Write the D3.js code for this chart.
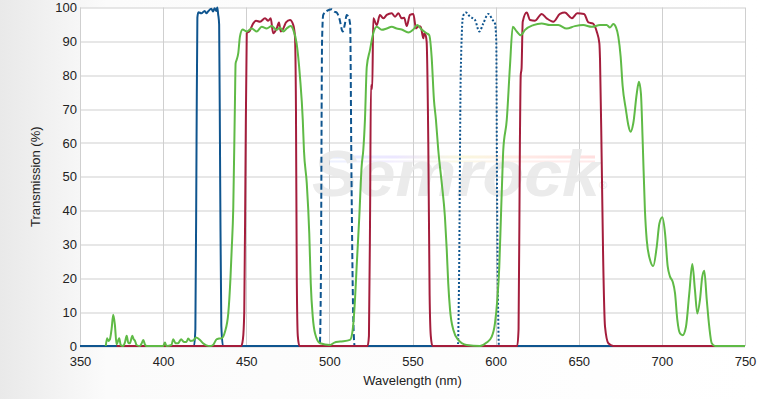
<!DOCTYPE html>
<html>
<head>
<meta charset="utf-8">
<script src="https://cdn.jsdelivr.net/npm/d3@7/dist/d3.min.js"></script>
<style>
  html, body { margin: 0; padding: 0; background: #fff; }
  svg { display: block; font-family: "Liberation Sans", Arial, sans-serif; }
</style>
</head>
<body>
<svg id="chart" width="760" height="399"></svg>
<script>
// Data: [wavelength nm, transmission %]
var blueSolid = [[350,0],[418.6,0],[419.4,5],[420.1,60],[420.6,97],[421.2,98.6],[423,98.3],[425,99],[426,98.3],[427,98.8],[429,99.6],[430,98.8],[431,99.8],[432,99],[432.6,100],[433.1,98],[433.7,95],[434.3,50],[435,6],[436,0],[750,0]];

var blueDashed = [[350,0],[494.2,0],[494.9,20],[495.6,90],[496.3,97.8],[498.5,99],[501.4,99.5],[503,98.8],[504.4,98.5],[506,96.8],[508,92.9],[509.4,95.3],[510.4,97.8],[511.4,97.3],[512.5,95],[513.3,50],[514.3,10],[515.2,0],[750,0]];

var blueDotted = [[350,0],[577.3,0],[578,20],[579,80],[580.4,97.5],[582.2,98.5],[584.6,97.3],[587.6,96.3],[590.2,92.9],[592.6,95.3],[595.6,98.1],[598.2,96.3],[599.6,95.3],[600.4,90],[600.8,50],[601.4,15],[602,0],[750,0]];

var red = [[372,0],[447,0],[448,2],[448.8,10],[449.5,50],[450.3,92.4],[452,93],[454.2,95.3],[455.9,96.1],[458.3,95.8],[461.3,96.8],[463.2,96.1],[464.7,96.8],[466.2,92.4],[468.3,93.8],[469.7,95.6],[470.7,92.9],[472.3,93.8],[473.9,95.6],[476.3,96.3],[478.3,94.8],[479.3,91.4],[479.9,70],[480.4,20],[481,3],[482,0],
  [523,0],[523.8,3],[524.5,40],[525,77],[525.8,76],[526.4,96.8],[528.5,94.8],[530.4,97.8],[532.4,96.8],[534.5,97.8],[537.5,98.3],[539.5,97.3],[541.5,98.3],[543.5,96.8],[545,97],[546.5,94.5],[548.5,97.8],[550.5,98.1],[552.1,93.8],[553.5,94.4],[554.9,94.4],[556.5,90.9],[557.1,92.4],[557.9,91.8],[558.5,89.9],[559.5,60],[560.3,15],[561,3],[562,0],
  [613,0],[613.8,5],[614.6,60],[615.1,80],[615.6,82],[616.3,95.8],[618.7,98.5],[620.7,96.3],[623.7,96.1],[627.7,98.1],[630.7,96.8],[634.7,95.8],[638.7,98.1],[641.7,98.5],[645.8,96.8],[649.1,98.3],[653.2,98.1],[655.8,95.6],[658.4,95.3],[660.8,92.9],[662.4,89.4],[662.8,84.5],[663.8,55],[664.7,25.4],[665.8,5.7],[667.8,0.8],[670.8,0],[750,0]];

var green = [[365.5,0],[366.3,2.3],[367,1.5],[368,2],[369,5],[370,9.2],[371,6.2],[372,0.5],[373.6,2.3],[374.5,0.3],[376,0],[377,1],[378.1,3],[379,1],[380,0.8],[381.5,3],[382.3,2],[383.1,1.5],[384,0.3],[386,0],[387.3,1],[388.1,1.8],[389,0.5],[390,0],[400,0],[401.1,1],[402,0],[405,0.3],[406.1,2],[407.5,0.8],[409,0.8],[410.8,2],[412.5,1.2],[414,1.2],[415.1,2.2],[416.5,1.5],[418,1.6],[419.8,2.5],[422.2,1.8],[424,0.8],[426,0.2],[428.2,0],[430,0.3],[432.2,2],[433.5,2.2],[435.2,2.3],[437.2,4.2],[439.2,9.7],[440.5,20],[441.2,28],[442.2,41],[443.2,72],[443.6,83.5],[444.2,84.5],[445.2,86.5],[446.2,91.4],[447.8,93.5],
  [450.3,92.9],[453.3,93.8],[456.3,92.9],[459.3,94.3],[462.3,93.8],[465.3,94.5],[468.3,93.4],[470.3,94.1],[472.3,92.9],[474.3,93.8],[476.7,94.5],[478.3,93.4],[480.3,89.4],[482.3,79.6],[484,66.8],[484.7,57.9],[486.4,48.1],[487.9,33.3],[488.8,18.5],[490,8.7],[491.4,3.7],[494.4,0.8],[500.4,0.3],[503,1],[506.4,1.3],[512.4,1.8],[514,4.7],[515.4,13.6],[516.4,23.4],[518,38.2],[519.4,53],[520.4,57.9],[521.4,66.8],[522.5,82.5],[524.4,87.4],[526.4,92.4],[528.5,94.3],
  [531.5,93.4],[534.5,93.8],[537.5,94.3],[540.5,93.8],[543.5,93.5],[547.5,92.6],[550.5,93.5],[552.9,94.8],[555.5,93.5],[558.5,92.4],[560.1,91.8],[561.5,85.5],[562.9,72.7],[564.1,66.8],[565.5,57.9],[567.6,48.1],[569.5,38.2],[570.6,28.4],[571.5,18.5],[572.6,10.6],[574.6,4.7],[577.5,1.8],[582.6,0.3],[590.6,0],[594.6,1],[597.6,2.7],[599.6,6.7],[601,13.6],[602.2,23.4],[603.2,38.2],[604.2,53],[604.6,57.9],[606.7,66.8],[608.6,82.5],[610.3,94.3],[612.7,92.9],[615.1,91.8],[617.7,93.4],
  [622.7,94.8],[627.7,95.3],[632.7,94.8],[637.7,94.8],[642.7,93.8],[647.7,94.5],[652.7,94.8],[657.8,94.3],[662.8,94.8],[666.8,94.8],[668.8,94.1],[670.8,95.1],[672.4,94.1],[673.8,91.4],[675.2,85.5],[676.4,76.8],[678.4,69.7],[679.8,65.3],[681.2,63.3],[682.8,65.8],[684.9,74.6],[686.2,78.1],[687.4,74.6],[688.5,59.8],[689.8,40.2],[690.9,31.3],[692.9,25.4],[694.8,23.6],[696.9,29.3],[698.5,36.2],[700.3,38],[701.9,33.3],[703.5,23.5],[704.9,20.5],[706.5,19],[707.9,15.6],[709.3,7.7],[710.9,3.7],[712.5,3.2],[714.5,5.7],[716.5,15.6],[718.3,24.2],[719.9,16.5],[721.3,9.6],[722.9,13.6],[724.3,20.5],[725.5,22.2],[727,13.6],[728.5,5.7],[730,0.8],[732,0],[750,0]];

var xTicks = [350, 400, 450, 500, 550, 600, 650, 700, 750];
var yTicks = [0, 10, 20, 30, 40, 50, 60, 70, 80, 90, 100];

var margin = { top: 7.5, right: 15, bottom: 53, left: 80 };
var width = 760 - margin.left - margin.right;
var height = 399 - margin.top - margin.bottom;

var svg = d3.select("#chart");

// page background, grey fading in from the left
var defs = svg.append("defs");
var bg = defs.append("linearGradient").attr("id", "bg").attr("x1", "0").attr("x2", "1").attr("y1", "0").attr("y2", "0");
bg.append("stop").attr("offset", "0%").attr("stop-color", "#e9e9e9");
bg.append("stop").attr("offset", "14%").attr("stop-color", "#fbfbfb");
bg.append("stop").attr("offset", "100%").attr("stop-color", "#ffffff");
var rainbow = defs.append("linearGradient").attr("id", "rainbow");
["#c8d8ff", "#d8ccff", "#f4f0b8", "#ffd0c8", "#ffb8b8"].forEach(function (c, i) {
  rainbow.append("stop").attr("offset", (i * 25) + "%").attr("stop-color", c);
});
defs.append("clipPath").attr("id", "plotClip")
  .append("rect").attr("x", -1).attr("y", -2).attr("width", width + 2).attr("height", height + 3);

svg.append("rect").attr("width", 760).attr("height", 399).attr("fill", "url(#bg)");

var g = svg.append("g")
  .attr("transform", "translate(" + margin.left + "," + margin.top + ")");

g.append("rect").attr("width", width).attr("height", height).attr("fill", "#fff");

var x = d3.scaleLinear().domain([350, 750]).range([0, width]);
var y = d3.scaleLinear().domain([0, 100]).range([height, 0]);

// grid
g.append("g").selectAll("line").data(xTicks).enter().append("line")
  .attr("x1", function (d) { return Math.round(x(d)) + 0.5; })
  .attr("x2", function (d) { return Math.round(x(d)) + 0.5; })
  .attr("y1", 0).attr("y2", height)
  .attr("stroke", "#cfcfcf");
g.append("g").selectAll("line").data(yTicks).enter().append("line")
  .attr("y1", function (d) { return Math.round(y(d)) + 0.5; })
  .attr("y2", function (d) { return Math.round(y(d)) + 0.5; })
  .attr("x1", 0).attr("x2", width)
  .attr("stroke", "#cfcfcf");

// watermark
var wm = g.append("g").attr("opacity", 0.9);
wm.append("rect").attr("x", 250).attr("y", 148).attr("width", 265).attr("height", 3).attr("fill", "url(#rainbow)").attr("opacity", 0.5);
wm.append("rect").attr("x", 240).attr("y", 153).attr("width", 275).attr("height", 2).attr("fill", "url(#rainbow)").attr("opacity", 0.35);
wm.append("text").attr("x", 232).attr("y", 188)
  .attr("font-size", 64).attr("font-weight", "bold").attr("font-style", "italic")
  .attr("textLength", 288).attr("lengthAdjust", "spacingAndGlyphs")
  .attr("fill", "#e9e9e9").text("Semrock");
wm.append("text").attr("x", 519).attr("y", 181).attr("font-size", 11).attr("fill", "#e2e2e2").text("®");

// series
var line = d3.line()
  .x(function (d) { return x(d[0]); })
  .y(function (d) { return y(d[1]); })
  .curve(d3.curveMonotoneX);

var series = [
  { data: blueSolid, color: "#0f558f", dash: null },
  { data: blueDashed, color: "#0f558f", dash: "6,3" },
  { data: blueDotted, color: "#0f558f", dash: "2,2" },
  { data: red, color: "#a41d3c", dash: null },
  { data: green, color: "#5fba46", dash: null }
];

var plot = g.append("g").attr("clip-path", "url(#plotClip)");
plot.selectAll(".series").data(series).enter().append("path")
  .attr("class", "series")
  .attr("d", function (d) { return line(d.data); })
  .attr("fill", "none")
  .attr("stroke", function (d) { return d.color; })
  .attr("stroke-width", 2)
  .attr("stroke-linejoin", "round")
  .attr("stroke-dasharray", function (d) { return d.dash; });

// axes
var xAxis = g.append("g")
  .attr("transform", "translate(0," + height + ")")
  .call(d3.axisBottom(x).tickValues(xTicks).tickSize(0).tickPadding(11).tickFormat(d3.format("d")));
xAxis.select(".domain").remove();
xAxis.selectAll(".tick text").attr("font-size", 13).attr("fill", "#222").attr("font-family", "Liberation Sans, Arial, sans-serif");

var yAxis = g.append("g")
  .call(d3.axisLeft(y).tickValues(yTicks).tickSize(0).tickPadding(3).tickFormat(d3.format("d")));
yAxis.select(".domain").remove();
yAxis.selectAll(".tick text").attr("font-size", 13).attr("fill", "#222").attr("font-family", "Liberation Sans, Arial, sans-serif");

svg.append("text")
  .attr("x", margin.left + width / 2)
  .attr("y", 385)
  .attr("text-anchor", "middle")
  .attr("font-size", 13).attr("fill", "#222")
  .text("Wavelength (nm)");

svg.append("text")
  .attr("transform", "rotate(-90)")
  .attr("x", -(margin.top + height / 2))
  .attr("y", 40)
  .attr("text-anchor", "middle")
  .attr("font-size", 13).attr("fill", "#222")
  .text("Transmission (%)");
</script>
</body>
</html>
